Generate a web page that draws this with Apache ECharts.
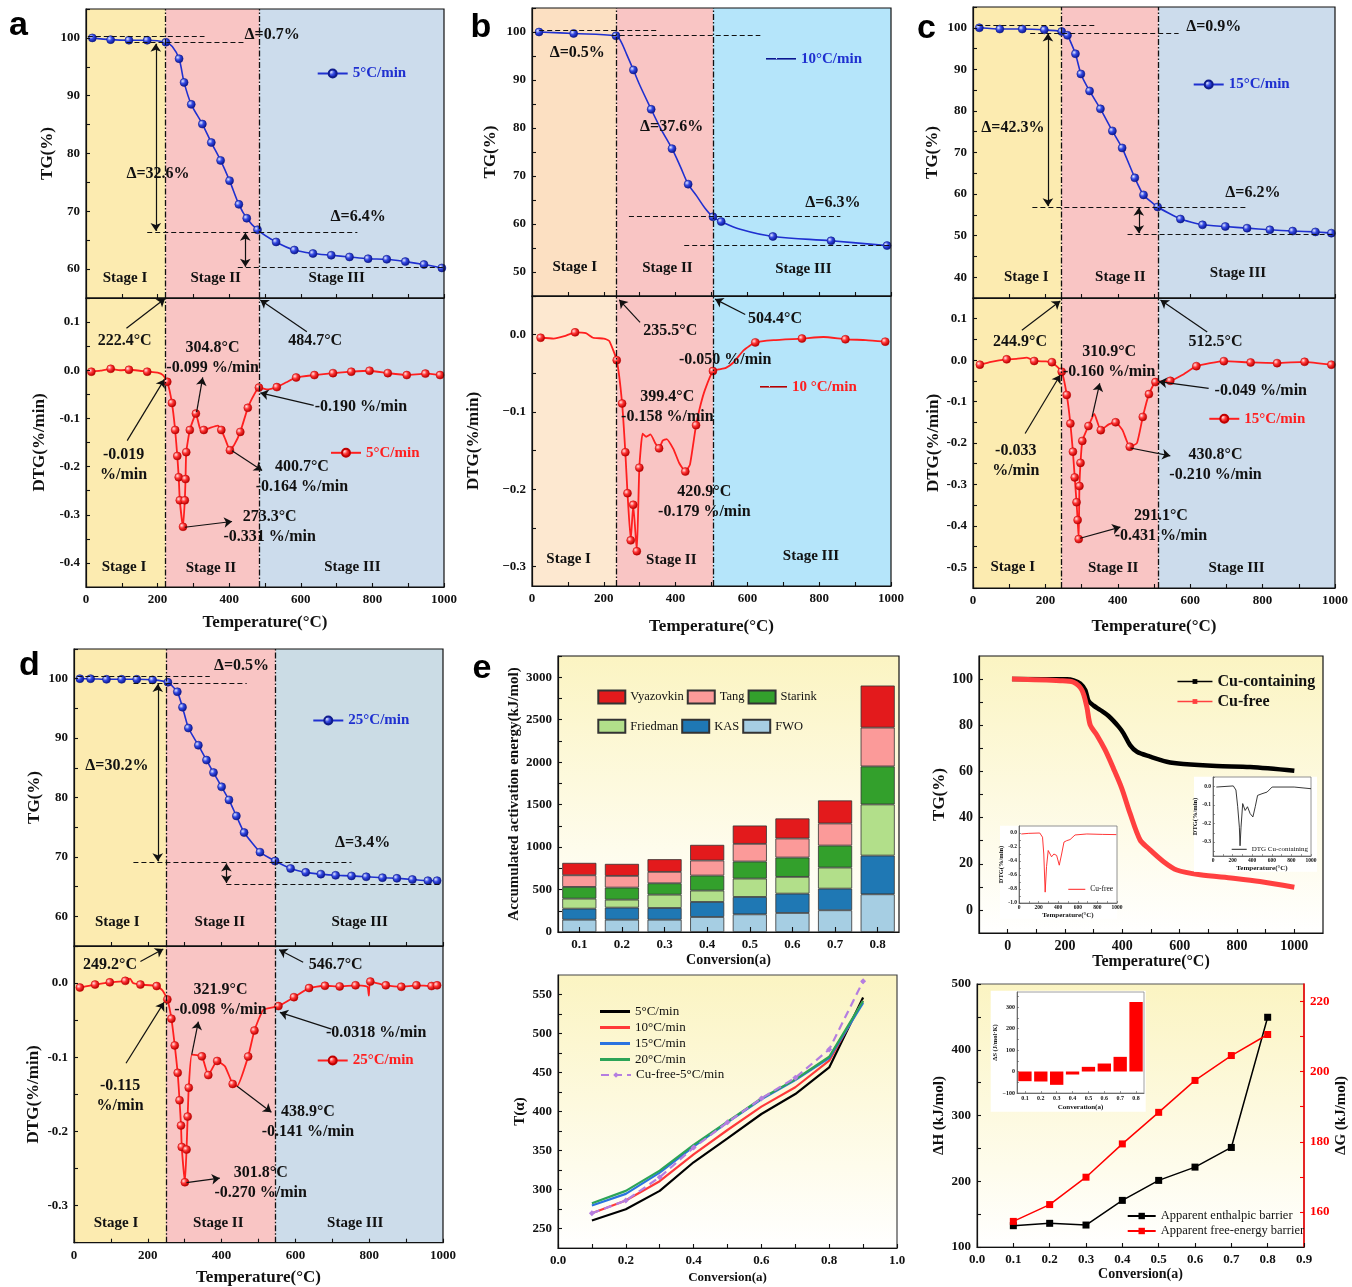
<!DOCTYPE html>
<html><head><meta charset="utf-8">
<script src="https://cdn.jsdelivr.net/npm/echarts@6/dist/echarts.min.js"></script>
<style>html,body{margin:0;padding:0;background:#fff}#c{width:1352px;height:1287px}</style>
</head><body><div id="c"></div>
<script>
// ---------------- DATA ----------------
const tempTicks = [0,100,200,300,400,500,600,700,800,900,1000];
const tempLabels = [0,200,400,600,800,1000];

// panel a (5 C/min)  [T, value, marker]
const boundsA = [222.4, 484.7];
const tgA = [[17.7,100,1],[68.8,99.7,1],[120,99.6,1],[171,99.6,1],[223,99.25,1],[241,98.5,0],[260,96.4,1],[274,92.3,1],[294,88.5,1],[325,85.1,1],[350,81.9,1],[376,78.8,1],[401,75.3,1],[427,71.2,1],[449,68.8,1],[479,66.8,1],[531,64.7,1],[582,63.3,1],[634,62.7,1],[685,62.4,1],[736,62.1,1],[788,61.8,1],[840,61.7,1],[892,61.3,1],[944,60.8,1],[994,60.2,1]];
const dtgA = [[15,-0.003,1],[40,-0.001,0],[69,0.003,1],[95,0.0,0],[120,0.001,1],[150,-0.001,0],[171,-0.003,1],[200,-0.005,0],[215,-0.01,0],[227,-0.024,1],[240,-0.068,1],[249,-0.124,1],[255,-0.178,1],[259,-0.222,1],[262,-0.27,1],[271,-0.325,1],[276,-0.27,1],[278,-0.226,1],[280,-0.17,1],[290,-0.124,1],[307,-0.09,1],[318,-0.12,0],[329,-0.124,1],[345,-0.12,0],[368,-0.115,0],[378,-0.124,1],[390,-0.145,0],[402,-0.166,1],[414,-0.155,0],[431,-0.128,1],[452,-0.078,1],[470,-0.05,0],[483,-0.036,1],[505,-0.04,0],[533,-0.035,1],[560,-0.025,0],[587,-0.015,1],[638,-0.010,1],[690,-0.006,1],[741,-0.003,1],[792,-0.001,1],[843,-0.006,1],[896,-0.01,1],[948,-0.007,1],[989,-0.01,1]];
const tgTicksA = [55,60,65,70,75,80,85,90,95,100,105];
const tgLabelsA = [60,70,80,90,100];
const dtgTicksA = [-0.45,-0.4,-0.35,-0.3,-0.25,-0.2,-0.15,-0.1,-0.05,0,0.05,0.1,0.15];
const dtgLabelsA = [-0.4,-0.3,-0.2,-0.1,0,0.1];

// panel b (10 C/min)
const boundsB = [235.5, 504.4];
const tgB = [[19.5,100,1],[116,99.7,1],[234,99.2,1],[245,98.4,0],[264,95.3,0],[282.5,92.1,1],[301,88.8,0],[332,83.9,1],[357,80.1,0],[390,75.7,1],[413,72.0,0],[435,68.3,1],[459,65.8,0],[482,63.3,0],[504,61.5,1],[527,60.5,1],[580,58.9,0],[671,57.4,1],[833,56.5,1],[989,55.5,1]];
const dtgB = [[24,-0.004,1],[60,-0.005,0],[90,-0.002,0],[120,0.003,1],[150,0.002,0],[170,-0.004,0],[200,-0.005,0],[215,-0.008,0],[236,-0.033,1],[251,-0.089,1],[260,-0.152,1],[266,-0.205,1],[275,-0.266,1],[282,-0.22,1],[292,-0.28,1],[299,-0.172,1],[308,-0.128,0],[318,-0.132,0],[330,-0.129,0],[343,-0.14,0],[354,-0.147,1],[364,-0.137,0],[375,-0.135,0],[394,-0.148,0],[410,-0.166,0],[427,-0.177,1],[440,-0.168,0],[457,-0.117,1],[470,-0.09,0],[482,-0.071,0],[504,-0.047,1],[520,-0.045,0],[540,-0.043,0],[561,-0.036,0],[590,-0.02,0],[622,-0.01,1],[673,-0.007,0],[752,-0.005,1],[812,-0.003,0],[873,-0.006,1],[930,-0.007,0],[984,-0.009,1]];
const tgTicksB = [45,50,55,60,65,70,75,80,85,90,95,100,105];
const tgLabelsB = [50,60,70,80,90,100];
const dtgTicksB = [-0.3,-0.25,-0.2,-0.15,-0.1,-0.05,0,0.05];
const dtgLabelsB = [-0.3,-0.2,-0.1,0];

// panel c (15 C/min)
const boundsC = [244.9, 512.5];
const tgC = [[17.5,100,1],[74,99.7,1],[136,99.7,1],[197,99.5,1],[245,99.1,1],[261,98.2,1],[283,93.75,1],[298,88.9,1],[322,84.8,1],[352,80.5,1],[385,75.2,1],[412,71.1,1],[447,63.9,1],[471,59.8,1],[510,56.9,1],[573,54.0,1],[634,52.6,1],[697,52.2,1],[757,51.8,1],[820,51.4,1],[883,51.1,1],[946,50.9,1],[990,50.6,1]];
const dtgC = [[19,-0.011,1],[50,-0.004,0],[93,0.002,1],[120,0.003,0],[149,0.006,0],[169,-0.002,1],[200,-0.003,0],[218,-0.005,1],[245,-0.028,1],[259,-0.084,1],[269,-0.153,1],[276,-0.221,1],[281,-0.283,1],[286,-0.343,1],[289,-0.386,1],[292,-0.432,1],[294,-0.304,1],[297,-0.248,1],[302,-0.195,1],[319,-0.159,1],[335,-0.13,0],[353,-0.169,1],[375,-0.155,0],[394,-0.150,1],[413,-0.169,0],[433,-0.209,1],[453,-0.2,0],[469,-0.137,1],[486,-0.082,1],[504,-0.053,1],[545,-0.050,1],[578,-0.036,0],[617,-0.0145,1],[693,-0.0024,1],[767,-0.0056,1],[840,-0.0072,1],[916,-0.004,1],[990,-0.011,1]];
const tgTicksC = [35,40,45,50,55,60,65,70,75,80,85,90,95,100,105];
const tgLabelsC = [40,50,60,70,80,90,100];
const dtgTicksC = [-0.55,-0.5,-0.45,-0.4,-0.35,-0.3,-0.25,-0.2,-0.15,-0.1,-0.05,0,0.05,0.1,0.15];
const dtgLabelsC = [-0.5,-0.4,-0.3,-0.2,-0.1,0,0.1];

// panel d (25 C/min)
const boundsD = [249.2, 546.7];
const tgD = [[16,100,1],[45,100,1],[88,99.9,1],[129,99.9,1],[170,99.9,1],[213,99.8,1],[254.5,99.4,1],[280,97.8,1],[294,95.2,1],[310,91.7,1],[337,88.8,1],[359,86.3,1],[378,84.2,1],[400,81.8,1],[420,79.6,1],[440,76.9,1],[461,74.1,1],[504,70.8,1],[545,69.3,1],[587,68.05,1],[628,67.4,1],[669,67.1,1],[709,66.9,1],[752,66.8,1],[792,66.65,1],[836,66.5,1],[875,66.4,1],[917,66.2,1],[959,66.0,1],[984,66.0,1]];
const dtgD = [[16,-0.006,1],[57,-0.002,1],[97,0.001,1],[139,0.003,1],[152,0.006,0],[160,0.0,0],[180,-0.002,1],[224,-0.004,1],[240,-0.01,0],[253,-0.022,1],[264,-0.048,1],[273,-0.084,1],[281,-0.121,1],[286,-0.158,1],[290,-0.192,1],[292,-0.221,1],[300.5,-0.2685,1],[305,-0.2245,1],[308,-0.18,1],[311,-0.141,1],[319.5,-0.0965,0],[346.5,-0.0988,1],[364,-0.124,1],[388,-0.105,1],[409,-0.112,0],[430,-0.136,1],[442,-0.139,0],[472,-0.099,1],[489,-0.064,1],[513,-0.036,0],[554,-0.031,1],[596,-0.019,1],[637,-0.0067,1],[680,-0.0036,1],[720,-0.0045,1],[763,-0.003,1],[795,-0.005,0],[799,-0.017,0],[803,0.002,1],[845,-0.003,1],[887,-0.005,1],[928,-0.003,1],[969,-0.004,1],[984,-0.003,1]];
const tgTicksD = [55,60,65,70,75,80,85,90,95,100,105];
const tgLabelsD = [60,70,80,90,100];
const dtgTicksD = [-0.35,-0.3,-0.25,-0.2,-0.15,-0.1,-0.05,0,0.05];
const dtgLabelsD = [-0.3,-0.2,-0.1,0];

// panel e: accumulated activation energy
const convCats = ['0.1','0.2','0.3','0.4','0.5','0.6','0.7','0.8'];
const eaFWO = [145,145,145,177,208,224,256,444];
const eaKAS = [130,142,138,177,205,228,255,456];
const eaFriedman = [118,94,157,134,216,197,248,602];
const eaStarink = [138,142,134,177,201,228,259,448];
const eaTang = [137,138,134,177,208,224,260,457];
const eaVyazovkin = [146,141,149,184,216,236,271,495];
const eaTicks = [0,250,500,750,1000,1250,1500,1750,2000,2250,2500,2750,3000,3250];
const eaLabels = [0,500,1000,1500,2000,2500,3000];

// panel e: TG comparison
const cuContaining = [[15,100],[207,99.9],[230,99.4],[253,98.1],[271,95.2],[282,90.6],[300,88.5],[323,86.6],[352,84.0],[387,79.4],[404,76.5],[427,71.4],[451,68.5],[497,66.4],[555,64.2],[613,63.2],[729,62.3],[846,61.9],[1000,60.3]];
const cuFree = [[15,100],[183,99.3],[230,98.6],[259,95.2],[276,88.0],[288,80.1],[311,75.8],[340,69.3],[369,61.3],[398,52.7],[427,41.8],[462,30.3],[491,26.7],[544,20.9],[590,17.3],[671,15.2],[787,13.7],[880,12.3],[1000,9.8]];
const dtgCuFree = [[24,-0.014],[100,-0.005],[212,0],[240,-0.06],[253,-0.30],[267,-0.845],[281,-0.48],[298,-0.25],[315,-0.23],[332,-0.34],[356,-0.30],[384,-0.32],[411,-0.46],[435,-0.30],[459,-0.13],[486,-0.11],[521,-0.094],[572,-0.028],[692,-0.014],[850,-0.02],[993,-0.023]];
const dtgCuContaining = [[34,-0.004],[207,0.002],[234,-0.02],[252,-0.11],[269,-0.22],[276,-0.32],[286,-0.22],[303,-0.093],[328,-0.13],[352,-0.11],[379,-0.147],[407,-0.165],[431,-0.11],[455,-0.049],[500,-0.04],[552,-0.031],[603,-0.004],[828,-0.004],[1000,-0.013]];
const tgeXTicks = [0,100,200,300,400,500,600,700,800,900,1000];
const tgeYTicks = [0,10,20,30,40,50,60,70,80,90,100];
const tgeYLabels = [0,20,40,60,80,100];

// panel e: T(alpha)
const convX = [0.1,0.2,0.3,0.4,0.5,0.6,0.7,0.8,0.9];
const tAlpha5 = [260.2,274.7,298.2,334.9,365.6,396.8,422.4,456.5,546.2];
const tAlpha10 = [269.6,285.8,310.6,345.1,376.3,406.2,431.1,465.1,541.9];
const tAlpha15 = [279.4,294.4,321.7,355.0,386.1,415.6,440.3,468.5,539.3];
const tAlpha20 = [282.4,298.2,324.2,357.1,387.0,416.8,441.2,470.2,541.9];
const tAlphaCuFree = [269.6,285.8,315.7,353.7,386.1,416.8,443.3,479.6,567.1];

// panel e: thermodynamics
const convH = [0.1,0.2,0.3,0.4,0.5,0.6,0.7,0.8];
const dH = [132.4,136.0,133.4,170.9,201.3,221.5,251.4,449.4];
const dG = [157.3,162.1,169.9,179.4,188.4,197.5,204.6,210.6];
const dS = [-45,-46.5,-62,-14,21.7,37.2,68.2,324];

// ---------------- STYLE / BUILD ----------------
const SERIF = '"Liberation Serif","Times New Roman",serif';
const INK = '#111';
const BLUE = '#1F30D0', RED = '#FF1F1F';
const Y1 = '#FCEBB0', P1 = '#F9C5C4', B1 = '#CCDCEC';
function ball(c0, c1, c2) { return new echarts.graphic.RadialGradient(0.35, 0.35, 0.65, [{offset:0,color:c0},{offset:0.45,color:c1},{offset:1,color:c2}]); }
const BLUE_BALL = ball('#e2e8ff', '#3348e2', '#0b1790');
const RED_BALL = ball('#ffe4e4', '#ff3434', '#b50000');
function yGrad() { return new echarts.graphic.LinearGradient(0,0,0,1,[{offset:0,color:'#FBF4C2'},{offset:0.7,color:'#FEFCEC'},{offset:1,color:'#FFFFFF'}]); }

const option = {animation:false, textStyle:{fontFamily:SERIF}, grid:[], xAxis:[], yAxis:[], series:[], legend:[], graphic:{elements:[]}};

function addGrid(b, extra) { option.grid.push(Object.assign({left:b[0], top:b[1], width:b[2], height:b[3]}, extra)); return option.grid.length - 1; }
function axis(kind, gi, c) {
  const lc = c.lineColor || INK;
  const o = {
    type: c.type || 'value', gridIndex: gi, z: c.z || 3,
    axisLine: {show:true, onZero:false, lineStyle:{color:lc, width:c.lineWidth || 1.2}},
    axisTick: {show:true, inside:true, length:c.tickLen || 4, lineStyle:{color:lc, width:c.tickWidth || 1.1}},
    axisLabel: {show: c.labels !== null, fontFamily:SERIF, fontWeight:'bold', fontSize:c.fs || 13, color:c.labelColor || INK, margin:c.margin || 6},
    splitLine: {show:false},
    nameTextStyle: {fontFamily:SERIF, fontWeight:'bold', fontSize:c.nfs || 17, color:INK}
  };
  if (c.type === 'category') { o.data = c.data; o.axisTick.alignWithLabel = true; }
  else { o.min = c.min; o.max = c.max; o.axisLabel.formatter = v => String(v); }
  if (c.position) o.position = c.position;
  if (c.ticks) o.axisTick.customValues = c.ticks;
  if (c.labels) o.axisLabel.customValues = c.labels;
  if (c.fmt) o.axisLabel.formatter = c.fmt;
  if (c.name) { o.name = c.name; o.nameLocation = 'middle'; o.nameGap = c.nameGap; }
  option[kind].push(o); return option[kind].length - 1;
}
function leg(o) {
  const base = {selectedMode:false, padding:0, itemGap:4, orient:'horizontal', z:8};
  option.legend.push(Object.assign(base, o));
}
function items(arr) { return arr.map(p => ({value:[p[0], p[1]], symbol: p[2] ? 'circle' : 'none'})); }
function mp(list) {
  return {silent:true, symbol:'circle', symbolSize:1, itemStyle:{color:'rgba(0,0,0,0)'},
    label:{show:true, position:'inside', formatter:'{b}', fontFamily:SERIF, fontWeight:'bold', fontSize:16, color:INK, lineHeight:20},
    data: list.map(t => { const d = {name:t[2], coord:[t[0], t[1]]}; if (t[3]) d.label = {fontSize:t[3]}; return d; })};
}
function ml(bounds, list) {
  const data = bounds.map(b => ({xAxis:b, lineStyle:{type:[6,2,1.5,2], color:INK, width:1.3}}));
  list.forEach(l => {
    const [x1,y1,x2,y2,k] = l;
    if (k === 'd') data.push([{coord:[x1,y1], lineStyle:{type:[5,3], color:INK, width:1.2}}, {coord:[x2,y2]}]);
    else data.push([{coord:[x1,y1], symbol: k === 'aa' ? 'arrow' : 'none', symbolSize:8, lineStyle:{type:'solid', color:INK, width:1.2}}, {coord:[x2,y2], symbol:'arrow', symbolSize:8}]);
  });
  return {silent:true, symbol:['none','none'], label:{show:false}, lineStyle:{color:INK, width:1.2}, itemStyle:{color:INK}, data};
}

function stage(p) {
  const gb = {show:true, z:4, borderColor:INK, borderWidth:1.2, backgroundColor:'transparent'};
  const gT = addGrid(p.gT, gb), gD = addGrid(p.gD, gb);
  const xT = axis('xAxis', gT, {min:0, max:1000, ticks:tempTicks, labels:null});
  const xD = axis('xAxis', gD, {min:0, max:1000, ticks:tempTicks, labels:tempLabels, name:'Temperature(°C)', nameGap:p.xGap});
  const yT = axis('yAxis', gT, {min:p.tgR[0], max:p.tgR[1], ticks:p.tgTicks, labels:p.tgLabels, name:'TG(%)', nameGap:p.tgGap});
  const yD = axis('yAxis', gD, {min:p.dtgR[0], max:p.dtgR[1], ticks:p.dtgTicks, labels:p.dtgLabels, fmt:p.dtgFmt || (v => v.toFixed(1)), name:'DTG(%/min)', nameGap:p.dtgGap});
  const areas = cols => [[{xAxis:0, itemStyle:{color:cols[0]}},{xAxis:p.bounds[0]}],[{xAxis:p.bounds[0], itemStyle:{color:cols[1]}},{xAxis:p.bounds[1]}],[{xAxis:p.bounds[1], itemStyle:{color:cols[2]}},{xAxis:1000}]];
  option.series.push({type:'line', name:p.nameT + '|TG', xAxisIndex:xT, yAxisIndex:yT, z:2, data:items(p.tg), smooth:p.tgSmooth,
    symbol:'circle', symbolSize:8, lineStyle:{color:BLUE, width:1.6}, itemStyle:{color:BLUE_BALL, borderColor:'#101c8c', borderWidth:0.6},
    markArea:{silent:true, label:{show:false}, data:areas(p.colT)}, markLine:ml(p.bounds, p.tgLines), markPoint:mp(p.tgTexts)});
  option.series.push({type:'line', name:p.nameD + '|DTG', xAxisIndex:xD, yAxisIndex:yD, z:2, data:items(p.dtg), smooth:0.15,
    symbol:'circle', symbolSize:8, lineStyle:{color:RED, width:1.8}, itemStyle:{color:RED_BALL, borderColor:'#c00000', borderWidth:0.5},
    markArea:{silent:true, label:{show:false}, data:areas(p.colD)}, markLine:ml(p.bounds, p.dtgLines), markPoint:mp(p.dtgTexts)});
  const fmt = n => n.split('|')[0];
  const lt = {left:p.legT[0], top:p.legT[1], data:[p.nameT + '|TG'], formatter:fmt, itemWidth:30, itemHeight:p.legIcon ? 1.6 : 10, textStyle:{fontFamily:SERIF, fontWeight:'bold', fontSize:15, color:BLUE}};
  const ld = {left:p.legD[0], top:p.legD[1], data:[p.nameD + '|DTG'], formatter:fmt, itemWidth:p.legIcon ? 27 : 30, itemHeight:p.legIcon ? 1.6 : 10, textStyle:{fontFamily:SERIF, fontWeight:'bold', fontSize:15, color:RED}};
  if (p.legIcon) { lt.icon = p.legIcon; ld.icon = p.legIcon; lt.itemStyle = {borderWidth:0}; ld.itemStyle = {borderWidth:0}; }
  leg(lt); leg(ld);
}

stage({nameT:'5°C/min', nameD:'5°C/min', gT:[86,9,358,289], gD:[86,298,358,289], tg:tgA, dtg:dtgA, bounds:boundsA,
  tgR:[55,105], tgTicks:tgTicksA, tgLabels:tgLabelsA, dtgR:[-0.45,0.15], dtgTicks:dtgTicksA, dtgLabels:dtgLabelsA,
  colT:[Y1,P1,B1], colD:[Y1,P1,B1], tgGap:30, dtgGap:38, xGap:27, tgSmooth:0.3,
  tgLines:[[5,100.35,331,100.35,'d'],[113,99.2,445,99.2,'d'],[171,66.4,758,66.4,'d'],[424,60.3,998,60.3,'d'],[195,99.0,195,66.6,'aa'],[445,66.3,445,60.4,'aa']],
  tgTexts:[[520,100.5,'Δ=0.7%'],[201,76.5,'Δ=32.6%'],[760,69.1,'Δ=6.4%'],[109,58.4,'Stage I',15],[362,58.4,'Stage II',15],[700,58.4,'Stage III',15]],
  dtgLines:[[113,0.087,221,0.149,'a'],[617,0.08,487,0.146,'a'],[309,-0.087,326,-0.015,'a'],[115,-0.146,219,-0.019,'a'],[636,-0.073,487,-0.047,'a'],[408,-0.167,492,-0.208,'a'],[276,-0.326,408,-0.314,'a']],
  dtgTexts:[[108,0.06,'222.4°C'],[640,0.06,'484.7°C'],[353.5,0.0265,'304.8°C\n-0.099 %/min'],[105,-0.197,'-0.019\n%/min'],[768,-0.076,'-0.190 %/min'],[603,-0.222,'400.7°C\n-0.164 %/min'],[513,-0.3245,'273.3°C\n-0.331 %/min'],[106,-0.408,'Stage I',15],[349,-0.411,'Stage II',15],[744,-0.408,'Stage III',15]],
  legT:[316.7,66], legD:[330,445.3]});

stage({nameT:'10°C/min', nameD:'10 °C/min', gT:[532,8,359,288], gD:[532,296,359,290], tg:tgB, dtg:dtgB, bounds:boundsB,
  tgR:[45,105], tgTicks:tgTicksB, tgLabels:tgLabelsB, dtgR:[-0.325,0.05], dtgTicks:dtgTicksB, dtgLabels:dtgLabelsB, dtgFmt: v => v.toFixed(1).replace('-', '\u2212'),
  colT:['#FCE0C2',P1,'#B5E5FA'], colD:['#FDE8D0',P1,'#B5E5FA'], tgGap:32.5, dtgGap:50, xGap:32, tgSmooth:0.35,
  tgLines:[[20,100.3,352,100.3,'d'],[222,99.3,636,99.3,'d'],[270,61.6,859,61.6,'d'],[424,55.5,1000,55.5,'d']],
  tgTexts:[[126,95.6,'Δ=0.5%'],[389,80.3,'Δ=37.6%'],[838,64.4,'Δ=6.3%'],[119,51.0,'Stage I',15],[377,50.9,'Stage II',15],[756,50.5,'Stage III',15]],
  dtgLines:[[301,0.016,243,0.045,'a'],[594,0.026,510,0.046,'a']],
  dtgTexts:[[385,0.005,'235.5°C'],[677,0.021,'504.4°C'],[538,-0.0325,'-0.050 %/min'],[377,-0.093,'399.4°C\n-0.158 %/min'],[480,-0.216,'420.9°C\n-0.179 %/min'],[102,-0.29,'Stage I',15],[388,-0.291,'Stage II',15],[777,-0.287,'Stage III',15]],
  legT:[766,51.3], legD:[760,379.3], legIcon:'rect'});

stage({nameT:'15°C/min', nameD:'15°C/min', gT:[973,7,362,291], gD:[973,298,362,290], tg:tgC, dtg:dtgC, bounds:boundsC,
  tgR:[35,105], tgTicks:tgTicksC, tgLabels:tgLabelsC, dtgR:[-0.55,0.15], dtgTicks:dtgTicksC, dtgLabels:dtgLabelsC,
  colT:[Y1,P1,B1], colD:[Y1,P1,B1], tgGap:32, dtgGap:31, xGap:30, tgSmooth:0.15,
  tgLines:[[12,100.56,335,100.56,'d'],[158,98.8,568,98.8,'d'],[164,56.9,753,56.9,'d'],[427,50.4,997,50.4,'d'],[207,98.6,207,57.1,'aa'],[458,56.7,458,50.6,'aa']],
  tgTexts:[[665,100.2,'Δ=0.9%'],[110,75.9,'Δ=42.3%'],[773,60.3,'Δ=6.2%'],[147,40.1,'Stage I',15],[407,40.1,'Stage II',15],[732,40.9,'Stage III',15]],
  dtgLines:[[135,0.072,241,0.143,'a'],[647,0.068,518,0.145,'a'],[329,-0.137,350,-0.056,'a'],[144,-0.177,241,-0.036,'a'],[651,-0.068,513,-0.052,'a'],[435,-0.212,545,-0.231,'a'],[296,-0.43,407,-0.403,'a']],
  dtgTexts:[[130,0.044,'244.9°C'],[670,0.044,'512.5°C'],[376,-0.004,'310.9°C\n-0.160 %/min'],[118,-0.243,'-0.033\n%/min'],[795,-0.074,'-0.049 %/min'],[670,-0.2525,'430.8°C\n-0.210 %/min'],[519,-0.40,'291.1°C\n-0.431 %/min'],[110,-0.50,'Stage I',15],[387,-0.502,'Stage II',15],[728,-0.502,'Stage III',15]],
  legT:[1192.7,77], legD:[1208.3,411.3]});

stage({nameT:'25°C/min', nameD:'25°C/min', gT:[74,649,369,297], gD:[74,946,369,297], tg:tgD, dtg:dtgD, bounds:boundsD,
  tgR:[55,105], tgTicks:tgTicksD, tgLabels:tgLabelsD, dtgR:[-0.35,0.05], dtgTicks:dtgTicksD, dtgLabels:dtgLabelsD,
  colT:[Y1,P1,'#CBDCE5'], colD:[Y1,P1,'#CCDCEA'], tgGap:30.5, dtgGap:31.7, xGap:26.3, tgSmooth:0.15,
  tgLines:[[9,100.34,368,100.34,'d'],[161,99.27,468,99.27,'d'],[161,69.07,752,69.07,'d'],[413,65.47,995,65.47,'d'],[227,99.1,227,69.25,'aa'],[413,68.9,413,65.6,'aa']],
  tgTexts:[[454,102.1,'Δ=0.5%'],[116,85.3,'Δ=30.2%'],[782,72.3,'Δ=3.4%'],[117,59.1,'Stage I',15],[395,59.1,'Stage II',15],[774,59.1,'Stage III',15]],
  dtgLines:[[180,0.029,242,0.046,'a'],[621,0.028,556,0.045,'a'],[319,-0.0965,337,-0.052,'a'],[141,-0.108,244,-0.026,'a'],[698,-0.062,558,-0.0395,'a'],[442,-0.139,535,-0.174,'a'],[305,-0.269,395,-0.263,'a']],
  dtgTexts:[[97.5,0.0247,'249.2°C'],[709,0.0247,'546.7°C'],[397,-0.0225,'321.9°C\n-0.098 %/min'],[125,-0.1515,'-0.115\n%/min'],[819,-0.0665,'-0.0318 %/min'],[634,-0.1875,'438.9°C\n-0.141 %/min'],[506,-0.2695,'301.8°C\n-0.270 %/min'],[114,-0.324,'Stage I',15],[391,-0.324,'Stage II',15],[762,-0.324,'Stage III',15]],
  legT:[312.3,713], legD:[316.7,1053]});

// ---- e: stacked bars ----
(function(){
  const g = addGrid([558,656,341,276], {show:true, z:0, borderColor:INK, borderWidth:1.2, backgroundColor:yGrad()});
  const x = axis('xAxis', g, {type:'category', data:convCats, name:'Conversion(a)', nameGap:21, nfs:14, tickLen:5});
  const y = axis('yAxis', g, {min:0, max:3250, ticks:eaTicks, labels:eaLabels, name:'Accumulated activation energy(kJ/mol)', nameGap:35.5, nfs:15});
  const m = [['FWO',eaFWO,'#A6CEE3'],['KAS',eaKAS,'#1F78B4'],['Friedman',eaFriedman,'#B2DF8A'],['Starink',eaStarink,'#33A02C'],['Tang',eaTang,'#FB9A99'],['Vyazovkin',eaVyazovkin,'#E31A1C']];
  m.forEach(s => option.series.push({type:'bar', name:s[0], stack:'ea', xAxisIndex:x, yAxisIndex:y, z:2, barWidth:'80%', data:s[1], itemStyle:{color:s[2], borderColor:'#333', borderWidth:0.8}}));
  const ts = {fontFamily:SERIF, fontSize:12.5, color:INK};
  leg({left:597.3, top:689.5, data:['Vyazovkin','Tang','Starink'], icon:'rect', itemWidth:27, itemHeight:13, itemGap:3, textStyle:ts});
  leg({left:597.3, top:718.8, data:['Friedman','KAS','FWO'], icon:'rect', itemWidth:27, itemHeight:13, itemGap:3, textStyle:ts});
})();

// ---- e: TG comparison with inset DTGs ----
(function(){
  const g = addGrid([979,656,344,277], {show:true, z:0, borderColor:INK, borderWidth:1.2, backgroundColor:yGrad()});
  const x = axis('xAxis', g, {min:-100, max:1100, ticks:tgeXTicks, labels:tempLabels, name:'Temperature(°C)', nameGap:20.7, nfs:16, fs:14});
  const y = axis('yAxis', g, {min:-10, max:110, ticks:tgeYTicks, labels:tgeYLabels, name:'TG(%)', nameGap:27, nfs:17, fs:14});
  option.series.push({type:'line', name:'Cu-containing', xAxisIndex:x, yAxisIndex:y, z:2, data:cuContaining, smooth:0.3, symbol:'rect', showSymbol:false, lineStyle:{color:'#000', width:4.5}, itemStyle:{color:'#000'}});
  option.series.push({type:'line', name:'Cu-free', xAxisIndex:x, yAxisIndex:y, z:2, data:cuFree, smooth:0.3, symbol:'rect', showSymbol:false, lineStyle:{color:'#FF4040', width:5}, itemStyle:{color:'#FF4040'}});
  leg({left:1176.7, top:673.5, orient:'vertical', data:['Cu-containing','Cu-free'], itemWidth:35, itemHeight:6, itemGap:4, lineStyle:{width:1.5}, textStyle:{fontFamily:SERIF, fontWeight:'bold', fontSize:16, color:INK}});
  // insets
  option.graphic.elements.push({type:'rect', z:4, silent:true, shape:{x:1000, y:825.7, width:117, height:93}, style:{fill:'#fff'}});
  option.graphic.elements.push({type:'rect', z:4, silent:true, shape:{x:1194, y:776.7, width:123, height:95}, style:{fill:'#fff'}});
  const ib = {show:true, z:5, borderColor:'#777', borderWidth:0.8, backgroundColor:'#fff'};
  const ia = {z:6, lineColor:'#555', lineWidth:0.8, tickWidth:0.6, tickLen:2, fs:5.5, margin:2, nfs:6.5};
  const g1 = addGrid([1019,826,98,77], ib);
  const x1 = axis('xAxis', g1, Object.assign({min:0, max:1000, ticks:tempTicks, labels:tempLabels, name:'Temperature(°C)', nameGap:7.5}, ia, {nfs:7}));
  const y1 = axis('yAxis', g1, Object.assign({min:-1.0, max:0.1, ticks:[-1,-0.9,-0.8,-0.7,-0.6,-0.5,-0.4,-0.3,-0.2,-0.1,0], labels:[-1,-0.8,-0.6,-0.4,-0.2,0], fmt:v => v.toFixed(1), name:'DTG(%/min)', nameGap:12}, ia));
  option.series.push({type:'line', name:'Cu-free|DTG', xAxisIndex:x1, yAxisIndex:y1, z:7, data:dtgCuFree, symbol:'none', lineStyle:{color:'#FF2020', width:0.9}, itemStyle:{color:'#FF2020'}});
  leg({left:1068.3, top:885.3, data:['Cu-free|DTG'], formatter:n => n.split('|')[0], icon:'rect', itemWidth:17, itemHeight:1, itemStyle:{borderWidth:0}, textStyle:{fontFamily:SERIF, fontSize:7.5, color:INK, lineHeight:8}});
  const g2 = addGrid([1213,777,98,79], ib);
  const x2 = axis('xAxis', g2, Object.assign({min:0, max:1000, ticks:tempTicks, labels:tempLabels, name:'Temperature(°C)', nameGap:8}, ia, {nfs:7}));
  const y2 = axis('yAxis', g2, Object.assign({min:-0.375, max:0.05, ticks:[-0.35,-0.3,-0.25,-0.2,-0.15,-0.1,-0.05,0,0.05], labels:[-0.3,-0.2,-0.1,0], fmt:v => v.toFixed(1), name:'DTG(%/min)', nameGap:11.5}, ia));
  option.series.push({type:'line', name:'DTG Cu-containing', xAxisIndex:x2, yAxisIndex:y2, z:7, data:dtgCuContaining, symbol:'none', lineStyle:{color:'#222', width:0.9}, itemStyle:{color:'#222'}});
  leg({left:1231.7, top:845.3, data:['DTG Cu-containing'], icon:'rect', itemWidth:15, itemHeight:1, itemStyle:{borderWidth:0}, textStyle:{fontFamily:SERIF, fontSize:7, color:INK, lineHeight:8}});
})();

// ---- e: T(alpha) ----
(function(){
  const g = addGrid([558,975,339,273], {show:true, z:0, borderColor:'#444', borderWidth:1.2, backgroundColor:yGrad()});
  const x = axis('xAxis', g, {min:0, max:1, ticks:[0,0.1,0.2,0.3,0.4,0.5,0.6,0.7,0.8,0.9,1], labels:[0,0.2,0.4,0.6,0.8,1], fmt:v => v.toFixed(1), name:'Conversion(a)', nameGap:23, nfs:13});
  const y = axis('yAxis', g, {min:225, max:575, ticks:[250,275,300,325,350,375,400,425,450,475,500,525,550], labels:[250,300,350,400,450,500,550], name:'T(α)', nameGap:30, nfs:15});
  const zip = arr => convX.map((v, i) => [v, arr[i]]);
  [['5°C/min',tAlpha5,'#000000'],['10°C/min',tAlpha10,'#FF3A3A'],['15°C/min',tAlpha15,'#2A73E0'],['20°C/min',tAlpha20,'#2CA457']].forEach(s =>
    option.series.push({type:'line', name:s[0], xAxisIndex:x, yAxisIndex:y, z:2, data:zip(s[1]), symbol:'none', lineStyle:{color:s[2], width:2.2}, itemStyle:{color:s[2]}}));
  option.series.push({type:'line', name:'Cu-free-5°C/min', xAxisIndex:x, yAxisIndex:y, z:3, data:zip(tAlphaCuFree), symbol:'diamond', symbolSize:6, lineStyle:{color:'#B57EE0', width:2.2, type:[8,5]}, itemStyle:{color:'#B57EE0'}});
  const ts = {fontFamily:SERIF, fontSize:13, color:INK, lineHeight:13};
  leg({left:600, top:1005, orient:'vertical', data:['5°C/min','10°C/min','15°C/min','20°C/min'], icon:'rect', itemWidth:30, itemHeight:3, itemGap:3, itemStyle:{borderWidth:0}, textStyle:ts});
  leg({left:600, top:1068.5, data:['Cu-free-5°C/min'], itemWidth:30, itemHeight:7, textStyle:ts});
})();

// ---- e: dH / dG with dS inset ----
(function(){
  const g = addGrid([977,984,327,263], {show:true, z:0, borderColor:'#555', borderWidth:1.2, backgroundColor:yGrad()});
  const x = axis('xAxis', g, {min:0, max:0.9, ticks:[0,0.1,0.2,0.3,0.4,0.5,0.6,0.7,0.8,0.9], labels:[0,0.1,0.2,0.3,0.4,0.5,0.6,0.7,0.8,0.9], fmt:v => v.toFixed(1), name:'Conversion(a)', nameGap:19, nfs:14});
  const yl = axis('yAxis', g, {min:100, max:500, ticks:[100,150,200,250,300,350,400,450,500], labels:[100,200,300,400,500], name:'ΔH (kJ/mol)', nameGap:30, nfs:15});
  const yr = axis('yAxis', g, {min:150, max:225, position:'right', ticks:[160,170,180,190,200,210,220], labels:[160,180,200,220], lineColor:'#FF0000', labelColor:'#FF0000', lineWidth:1.5, name:'ΔG (kJ/mol)', nameGap:28, nfs:15});
  const zip = arr => convH.map((v, i) => [v, arr[i]]);
  option.series.push({type:'line', name:'Apparent enthalpic barrier', xAxisIndex:x, yAxisIndex:yl, z:2, data:zip(dH), symbol:'rect', symbolSize:7, lineStyle:{color:'#000', width:1.5}, itemStyle:{color:'#000'}});
  option.series.push({type:'line', name:'Apparent free-energy barrier', xAxisIndex:x, yAxisIndex:yr, z:2, data:zip(dG), symbol:'rect', symbolSize:7, lineStyle:{color:'#FF0000', width:1.5}, itemStyle:{color:'#FF0000'}});
  leg({left:1126.7, top:1209.5, orient:'vertical', data:['Apparent enthalpic barrier','Apparent free-energy barrier'], itemWidth:28, itemHeight:8, itemGap:2, textStyle:{fontFamily:SERIF, fontSize:12.5, color:INK, lineHeight:13}});
  option.graphic.elements.push({type:'rect', z:4, silent:true, shape:{x:990.7, y:990.7, width:155, height:121}, style:{fill:'#fff'}});
  const gi = addGrid([1017,992,127,101], {show:true, z:5, borderColor:'#888', borderWidth:0.8, backgroundColor:'#fff'});
  const ia = {z:6, lineColor:'#555', lineWidth:0.8, tickWidth:0.6, tickLen:2, fs:6, margin:2, nfs:7};
  const xi = axis('xAxis', gi, Object.assign({type:'category', data:convCats, name:'Converation(a)', nameGap:10.5}, ia));
  const yi = axis('yAxis', gi, Object.assign({min:-100, max:370, ticks:[-100,-50,0,50,100,150,200,250,300,350], labels:[-100,0,100,200,300], fmt:v => v < 0 ? '\u2212' + (-v) : String(v), name:'ΔS (J/mol·K)', nameGap:18}, ia, {nfs:6.5}));
  option.series.push({type:'bar', name:'ΔS', xAxisIndex:xi, yAxisIndex:yi, z:7, data:dS, barCategoryGap:'16%', itemStyle:{color:'#FF0000'}});
})();

// panel letters
[['a',18.5,26],['b',481,28],['c',926.5,28.5],['d',29.5,665.5],['e',482,669]].forEach(l =>
  option.graphic.elements.push({type:'text', z:10, silent:true, x:l[1], y:l[2], style:{text:l[0], font:'bold 34px "Liberation Sans", Arial, sans-serif', fill:'#000', align:'center', verticalAlign:'middle'}}));

const chart = echarts.init(document.getElementById('c'), null, {renderer:'canvas'});
chart.setOption(option);
</script></body></html>
